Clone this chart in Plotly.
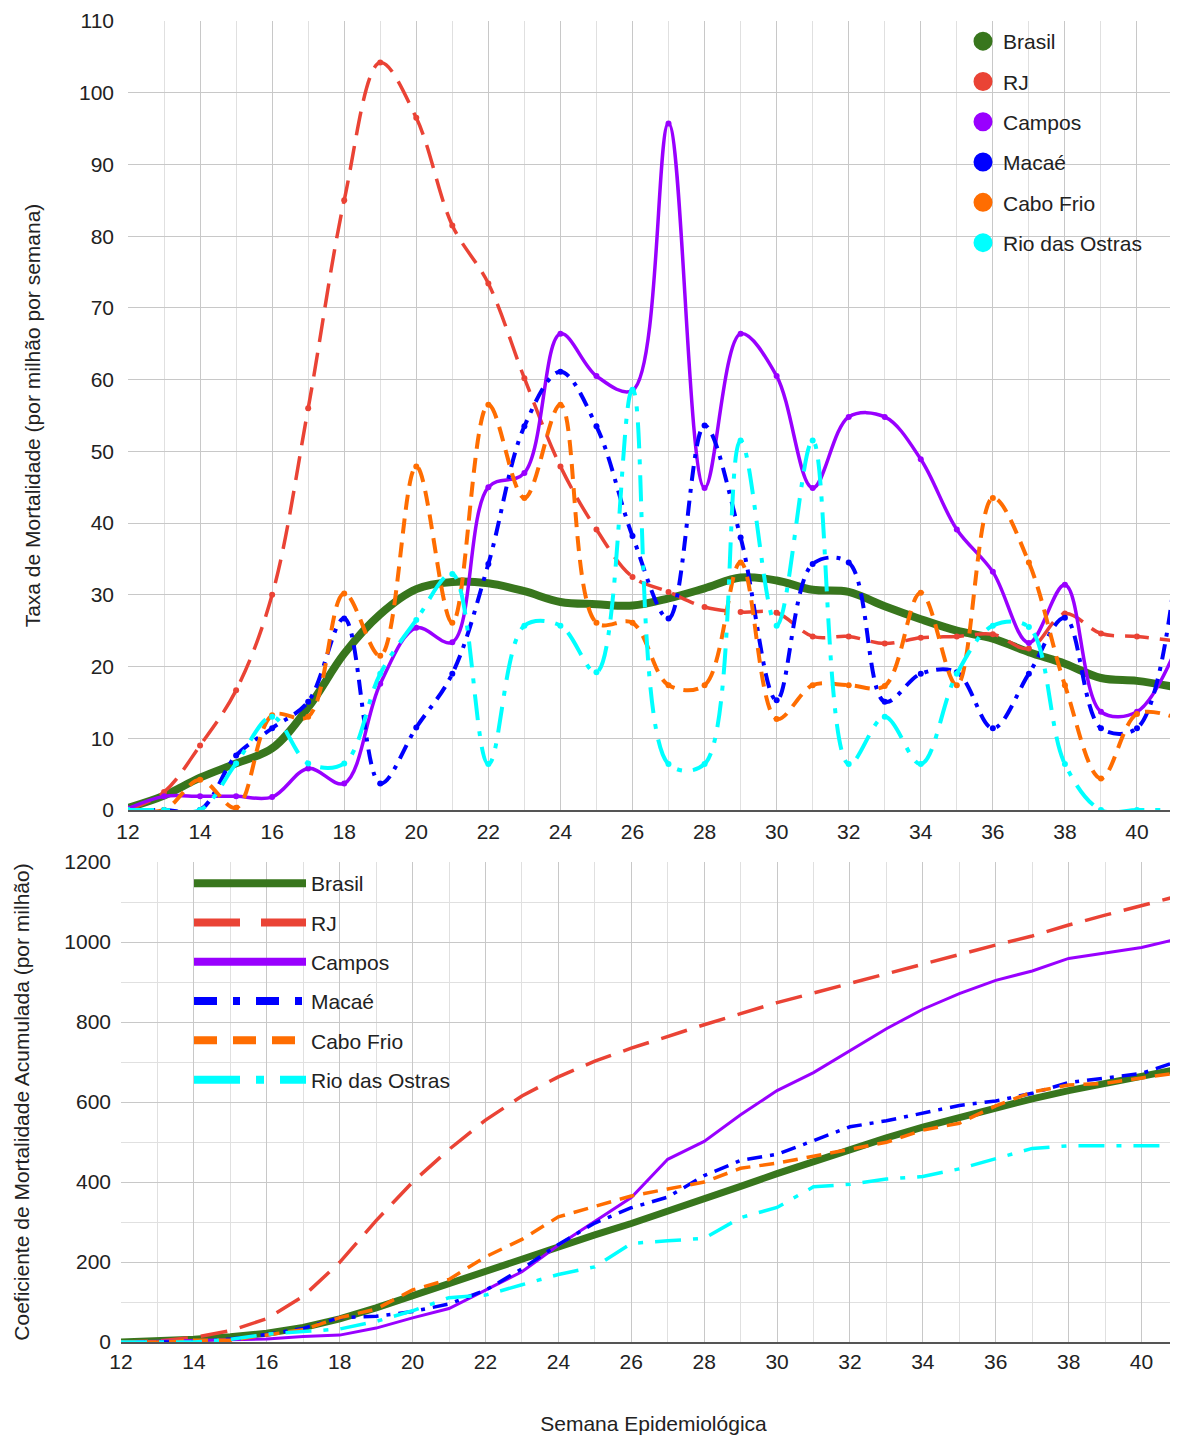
import plotly.graph_objects as go

# ---------------- data ----------------
weeks = list(range(12, 42))

series_names = ["Brasil", "RJ", "Campos", "Macaé", "Cabo Frio", "Rio das Ostras"]

# weekly mortality rate (per million per week)
brasil_sem = [0.3, 2.0, 4.5, 6.5, 8.6, 14.3, 21.8, 27.3, 30.8, 31.8, 31.6, 30.5, 29.0, 28.7, 28.5,
              29.5, 30.9, 32.4, 32.0, 30.7, 30.4, 28.4, 26.6, 25.0, 23.9, 22.0, 20.4, 18.4, 18.0, 17.2]
rj_sem = [0, 2.5, 9.0, 16.7, 30.0, 56.0, 85.0, 104.2, 96.5, 81.5, 73.4, 60.2, 47.9, 39.1, 32.5,
          30.4, 28.3, 27.6, 27.5, 24.2, 24.2, 23.2, 24.0, 24.2, 24.5, 22.5, 27.4, 24.6, 24.2, 23.6]
campos_sem = [0.2, 1.9, 1.9, 1.9, 1.8, 5.8, 3.7, 17.6, 25.4, 23.4, 45.0, 47.0, 66.4, 60.5, 58.5,
              95.7, 44.9, 66.4, 60.5, 44.9, 54.8, 54.8, 48.9, 39.1, 33.2, 23.3, 31.4, 13.7, 13.7, 21.5]
macae_sem = [0, 0, 0, 7.6, 11.4, 15.1, 26.7, 3.7, 11.5, 19.0, 34.3, 53.5, 61.1, 53.5, 38.2,
             26.7, 53.6, 38.0, 15.3, 34.3, 34.5, 15.1, 19.0, 19.2, 11.4, 19.0, 26.8, 11.4, 11.4, 30.4]
cabofrio_sem = [0, 0, 4.2, 0.3, 13.2, 13.0, 30.2, 21.5, 47.9, 26.1, 56.5, 43.5, 56.5, 26.1, 26.1,
                17.4, 17.4, 34.5, 12.7, 17.4, 17.4, 17.3, 30.3, 17.4, 43.5, 34.5, 17.4, 4.4, 13.4, 13.0]
rio_sem = [0, 0, 0, 6.5, 13.0, 6.5, 6.5, 19.0, 26.5, 32.9, 6.4, 25.7, 25.7, 19.2, 58.6,
           6.4, 6.4, 51.5, 25.7, 51.5, 6.4, 13.0, 6.4, 19.0, 25.7, 25.5, 6.4, 0, 0, 0]

# cumulative mortality (per million)
brasil_acum = [0.3, 2.3, 6.8, 13.3, 21.9, 36.2, 58.0, 85.3, 116.1, 147.9, 179.5, 210.0, 239.0, 267.7, 296.2,
               325.7, 356.6, 389.0, 421.0, 451.7, 482.1, 510.5, 537.1, 562.1, 586.0, 608.0, 628.4, 646.8, 664.8, 682.0]
rj_acum = [0, 2.5, 11.5, 28.2, 58.2, 114.2, 199.2, 303.4, 399.9, 481.4, 554.8, 615.0, 662.9, 702.0, 734.5,
           764.9, 793.2, 820.8, 848.3, 872.5, 896.7, 919.9, 943.9, 968.1, 992.6, 1015.1, 1042.5, 1067.1, 1091.3, 1114.9]
campos_acum = [0.2, 2.1, 4.0, 5.9, 7.7, 13.5, 17.2, 34.8, 60.2, 83.6, 128.6, 175.6, 242.0, 302.5, 361.0,
               456.7, 501.6, 568.0, 628.5, 673.4, 728.2, 783.0, 831.9, 871.0, 904.2, 927.5, 958.9, 972.6, 986.3, 1007.8]
macae_acum = [0, 0, 0, 7.6, 19.0, 34.1, 60.8, 64.5, 76.0, 95.0, 129.3, 182.8, 243.9, 297.4, 335.6,
              362.3, 415.9, 453.9, 469.2, 503.5, 538.0, 553.1, 572.1, 591.3, 602.7, 621.7, 648.5, 659.9, 671.3, 701.7]
cabofrio_acum = [0, 0, 4.2, 4.5, 17.7, 30.7, 60.9, 82.4, 130.3, 156.4, 212.9, 256.4, 312.9, 339.0, 365.1,
                 382.5, 399.9, 434.4, 447.1, 464.5, 481.9, 499.2, 529.5, 546.9, 590.4, 624.9, 642.3, 646.7, 660.1, 673.1]
rio_acum = [0, 0, 0, 6.5, 19.5, 26.0, 32.5, 51.5, 78.0, 110.9, 117.3, 143.0, 168.7, 187.9, 246.5,
            252.9, 259.3, 310.8, 336.5, 388.0, 394.4, 407.4, 413.8, 432.8, 458.5, 484.0, 490.4, 490.4, 490.4, 490.4]

weekly = [brasil_sem, rj_sem, campos_sem, macae_sem, cabofrio_sem, rio_sem]
cumulative = [brasil_acum, rj_acum, campos_acum, macae_acum, cabofrio_acum, rio_acum]

# ---------------- styles ----------------
colors = ["#38761d", "#ea4335", "#9900ff", "#0000ff", "#ff6d01", "#00ffff"]
dash_top = ["solid", "24px,11px", "solid", "15px,8px,4px,8px", "15px,9px", "26px,11px,5px,11px"]
width_top = [8, 3.5, 3.5, 4, 4, 4]
dash_bot = ["solid", "27px,13px", "solid", "15px,8px,4px,8px", "15px,9px", "26px,12px,5px,12px"]
width_bot = [7, 3.5, 3, 3.5, 3.5, 3.5]
dash_leg = ["solid", "46px,21px", "solid", "23px,16px,7px,16px", "23px,16px", "46px,16px,8px,16px"]

FONT = "Liberation Sans, Arial, sans-serif"
TXT = "#222222"

fig = go.Figure()

# top chart: weekly rate (smoothed lines with point markers)
for name, ys, c, d, w in zip(series_names, weekly, colors, dash_top, width_top):
    fig.add_trace(go.Scatter(
        x=weeks, y=ys, name=name, mode="lines" if name == "Brasil" else "lines+markers",
        line=dict(color=c, width=w, dash=d, shape="spline", smoothing=1.0),
        marker=dict(size=6, color=c), showlegend=False, xaxis="x", yaxis="y"))

# bottom chart: cumulative
for name, ys, c, d, w in zip(series_names, cumulative, colors, dash_bot, width_bot):
    fig.add_trace(go.Scatter(
        x=weeks, y=ys, name=name, mode="lines",
        line=dict(color=c, width=w, dash=d),
        showlegend=False, xaxis="x2", yaxis="y2"))

# legend entries (top: dots, bottom: line samples)
for name, c in zip(series_names, colors):
    fig.add_trace(go.Scatter(
        x=[None], y=[None], name=name, mode="markers",
        marker=dict(size=16, color=c, line=dict(color=c, width=3)),
        legend="legend", legendgroup="t" + name, xaxis="x", yaxis="y"))
for name, c, d in zip(series_names, colors, dash_leg):
    fig.add_trace(go.Scatter(
        x=[None], y=[None], name=name, mode="lines",
        line=dict(color=c, width=8, dash=d),
        legend="legend2", legendgroup="b" + name, xaxis="x2", yaxis="y2"))

W, H = 1178, 1440
grid_major = "#c8c8c8"
grid_minor = "#e0e0e0"
tickfont = dict(size=21, color=TXT, family=FONT)

fig.update_layout(
    width=W, height=H,
    margin=dict(l=0, r=0, t=0, b=0, pad=0),
    paper_bgcolor="white", plot_bgcolor="white",
    font=dict(family=FONT, size=21, color=TXT),
    xaxis=dict(domain=[120 / W, 1], range=[12, 41.36], tick0=12, dtick=2,
               gridcolor=grid_major, gridwidth=1.2,
               minor=dict(dtick=1, tick0=12, showgrid=True, gridcolor=grid_minor, gridwidth=1.2),
               showline=True, linecolor="#555555", linewidth=1.5, anchor="y",
               tickfont=tickfont, ticks="", zeroline=False, automargin=False,
               ticklabelstandoff=2, ticklabeloverflow="allow"),
    yaxis=dict(domain=[(H - 802) / H, (H - 13) / H], range=[0, 110], dtick=10,
               gridcolor=grid_major, gridwidth=1.2, anchor="x",
               tickfont=tickfont, ticks="", zeroline=False, showline=False, automargin=False,
               ticklabelstandoff=13, ticklabeloverflow="allow",
               title=dict(text="Taxa de Mortalidade (por milhão por semana)",
                          font=dict(size=21, color=TXT), standoff=32)),
    xaxis2=dict(domain=[113 / W, 1], range=[12, 41.22], tick0=12, dtick=2,
                gridcolor=grid_major, gridwidth=1.2,
                minor=dict(dtick=1, tick0=12, showgrid=True, gridcolor=grid_minor, gridwidth=1.2),
                showline=True, linecolor="#555555", linewidth=1.5, anchor="y2",
                tickfont=tickfont, ticks="", zeroline=False, automargin=False,
                ticklabeloverflow="allow",
                title=dict(text="Semana Epidemiológica", font=dict(size=21, color=TXT), standoff=44)),
    yaxis2=dict(domain=[(H - 1334) / H, (H - 854) / H], range=[0, 1200], dtick=200,
                gridcolor=grid_major, gridwidth=1.2,
                minor=dict(dtick=100, showgrid=True, gridcolor=grid_minor, gridwidth=1.2),
                anchor="x2", tickfont=tickfont, ticks="", zeroline=False, showline=False,
                automargin=False, ticklabelstandoff=9, ticklabeloverflow="allow",
                title=dict(text="Coeficiente de Mortalidade Acumulada (por milhão)",
                           font=dict(size=21, color=TXT), standoff=28)),
    legend=dict(x=955 / W, y=(H - 13) / H, xanchor="left", yanchor="top",
                bgcolor="rgba(0,0,0,0)", font=dict(size=21, color=TXT),
                tracegroupgap=10, itemsizing="trace"),
    legend2=dict(x=181 / W, y=(H - 855) / H, xanchor="left", yanchor="top",
                 bgcolor="rgba(0,0,0,0)", font=dict(size=21, color=TXT),
                 tracegroupgap=9, itemwidth=112),
)

fig.write_html("out.html")
